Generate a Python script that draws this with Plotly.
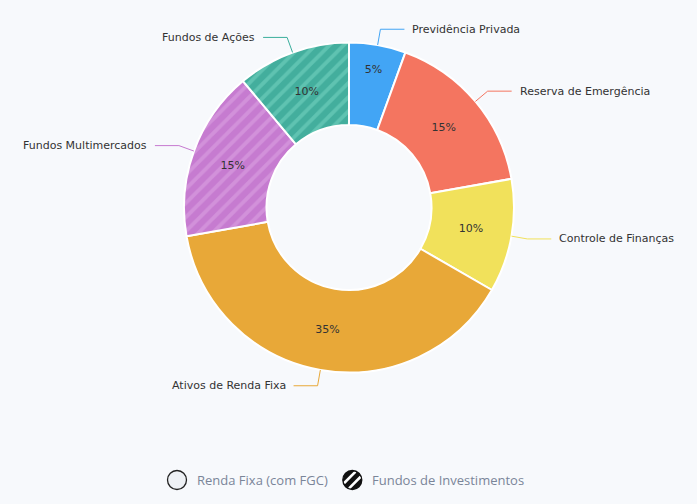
import math
import plotly.graph_objects as go

labels = ["Previdência Privada", "Reserva de Emergência", "Controle de Finanças",
          "Ativos de Renda Fixa", "Fundos Multimercados", "Fundos de Ações"]
values = [5, 15, 10, 35, 15, 10]
colors = ["#42a5f5", "#f47560", "#f1e15b", "#e8a838", "#d291da", "#5fc3b1"]
stripe_colors = ["", "", "", "", "#b965c6", "#27998a"]
line_colors = ["#42a5f5", "#f47560", "#f1e15b", "#e8a838", "#c67ad0", "#3aae9c"]
patterned = [False, False, False, False, True, True]
legend_labels = ["Renda Fixa (com FGC)", "Fundos de Investimentos"]

W, H = 697, 504
CX, CY, R = 349, 207.5, 165


def px(x):
    return x / W


def py(y):
    return 1 - y / H


fig = go.Figure()
fig.add_trace(go.Pie(
    labels=labels, values=values, sort=False, direction="clockwise", rotation=0,
    hole=0.5,
    marker=dict(
        colors=colors,
        line=dict(color="#ffffff", width=2),
        pattern=dict(
            shape=["/" if p else "" for p in patterned],
            fgcolor=[s if s else c for s, c in zip(stripe_colors, colors)],
            bgcolor=colors,
            size=10, solidity=0.62, fillmode="overlay",
        ),
    ),
    texttemplate="%{value}%", textposition="inside", insidetextorientation="horizontal",
    textfont=dict(family="DejaVu Sans", size=11, color="#333333"),
    domain=dict(x=[px(CX - R), px(CX + R)], y=[py(CY + R), py(CY - R)]),
    showlegend=False, hoverinfo="label+value",
))

# outside labels with leader lines, positioned from data angles
total = sum(values)
cum = 0
shapes = []
annotations = []
for lab, v, lc in zip(labels, values, line_colors):
    mid = (cum + v / 2) / total * 2 * math.pi
    cum += v
    sx, sy = CX + R * math.sin(mid), CY - R * math.cos(mid)
    r2 = R + 16
    bx, by = CX + r2 * math.sin(mid), CY - r2 * math.cos(mid)
    right = math.sin(mid) >= 0
    ex = bx + (24 if right else -24)
    tx = ex + (6 if right else -6)
    path = f"M {px(sx)} {py(sy)} L {px(bx)} {py(by)} L {px(ex)} {py(by)}"
    shapes.append(dict(type="path", path=path, xref="paper", yref="paper",
                       line=dict(color=lc, width=1)))
    annotations.append(dict(x=px(tx), y=py(by), xref="paper", yref="paper",
                            text=lab, showarrow=False,
                            xanchor="left" if right else "right", yanchor="middle",
                            font=dict(family="DejaVu Sans", size=11, color="#333333")))

# custom legend: item 1 (empty circle)
shapes.append(dict(type="circle", xref="paper", yref="paper",
                   x0=px(167.5), x1=px(186.5), y0=py(489.5), y1=py(470.5),
                   fillcolor="#eef1f5", line=dict(color="#222222", width=1.3)))
annotations.append(dict(x=px(195), y=py(480), xref="paper", yref="paper",
                        text=legend_labels[0], showarrow=False, xanchor="left", yanchor="middle",
                        font=dict(family="Open Sans", size=13, color="#7a8599")))
# item 2 (hatched circle): black disc with two white diagonal stripes
LX, LY, LR = 352.3, 480, 9.5
shapes.append(dict(type="circle", xref="paper", yref="paper",
                   x0=px(LX - LR), x1=px(LX + LR), y0=py(LY + LR), y1=py(LY - LR),
                   fillcolor="#111111", line=dict(width=0)))
for off in (-3.6, 3.6):
    # chord of the circle along the "/" direction, offset perpendicular by `off`
    ux, uy = 1 / math.sqrt(2), -1 / math.sqrt(2)   # direction (screen coords)
    nx, ny = 1 / math.sqrt(2), 1 / math.sqrt(2)    # normal
    half = math.sqrt(max(LR ** 2 - off ** 2, 0)) - 0.6
    cx0, cy0 = LX + nx * off, LY + ny * off
    shapes.append(dict(type="line", xref="paper", yref="paper",
                       x0=px(cx0 - ux * half), y0=py(cy0 - uy * half),
                       x1=px(cx0 + ux * half), y1=py(cy0 + uy * half),
                       line=dict(color="#ffffff", width=2.6)))
shapes.append(dict(type="circle", xref="paper", yref="paper",
                   x0=px(LX - LR), x1=px(LX + LR), y0=py(LY + LR), y1=py(LY - LR),
                   line=dict(color="#111111", width=1.3)))
annotations.append(dict(x=px(370), y=py(480), xref="paper", yref="paper",
                        text=legend_labels[1], showarrow=False, xanchor="left", yanchor="middle",
                        font=dict(family="Open Sans", size=13, color="#7a8599")))

fig.update_layout(
    width=W, height=H, margin=dict(l=0, r=0, t=0, b=0),
    paper_bgcolor="#f7f9fc", plot_bgcolor="#f7f9fc",
    shapes=shapes, annotations=annotations, showlegend=False,
)
fig.write_html("out.html")
